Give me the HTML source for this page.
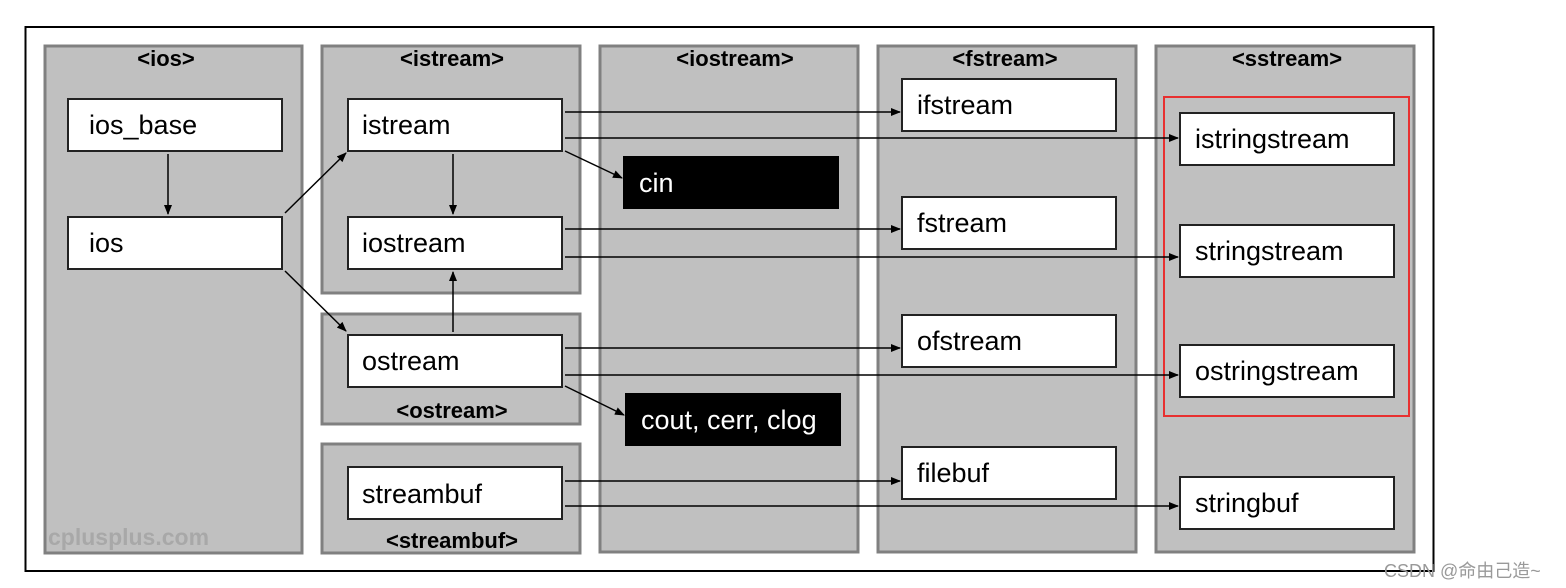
<!DOCTYPE html>
<html><head><meta charset="utf-8"><style>
html,body{margin:0;padding:0;background:#fff;}
svg{display:block;}
.t{font-family:"Liberation Sans",sans-serif;font-size:22px;font-weight:bold;text-anchor:middle;fill:#000;}
.b{font-family:"Liberation Sans",sans-serif;font-size:27px;fill:#000;}
.w{font-family:"Liberation Sans",sans-serif;font-size:27px;fill:#fff;}
</style></head><body>
<svg width="1566" height="588" viewBox="0 0 1566 588" xmlns="http://www.w3.org/2000/svg">
<defs><marker id="a" markerWidth="10" markerHeight="8" refX="9" refY="4" orient="auto" markerUnits="userSpaceOnUse"><path d="M0,0 L10,4 L0,8 z" fill="#000"/></marker></defs>
<rect x="25.5" y="27" width="1408" height="544" fill="#fff" stroke="#000" stroke-width="2"/>
<g fill="#c0c0c0" stroke="#808080" stroke-width="3">
<rect x="45" y="46" width="257" height="507"/>
<rect x="322" y="46" width="258" height="247"/>
<rect x="322" y="314" width="258" height="110"/>
<rect x="322" y="444" width="258" height="109"/>
<rect x="600" y="46" width="258" height="506"/>
<rect x="878" y="46" width="258" height="506"/>
<rect x="1156" y="46" width="258" height="506"/>
</g>
<text class="t" x="166" y="66">&lt;ios&gt;</text>
<text class="t" x="452" y="66">&lt;istream&gt;</text>
<text class="t" x="452" y="418">&lt;ostream&gt;</text>
<text class="t" x="452" y="548">&lt;streambuf&gt;</text>
<text class="t" x="735" y="66">&lt;iostream&gt;</text>
<text class="t" x="1005" y="66">&lt;fstream&gt;</text>
<text class="t" x="1287" y="66">&lt;sstream&gt;</text>
<text x="48" y="545" font-family="Liberation Sans,sans-serif" font-size="23" font-weight="bold" fill="#a8a8a8">cplusplus.com</text>
<g fill="#fff" stroke="#222" stroke-width="2">
<rect x="68" y="99" width="214" height="52"/>
<rect x="68" y="217" width="214" height="52"/>
<rect x="348" y="99" width="214" height="52"/>
<rect x="348" y="217" width="214" height="52"/>
<rect x="348" y="335" width="214" height="52"/>
<rect x="348" y="467" width="214" height="52"/>
<rect x="902" y="79" width="214" height="52"/>
<rect x="902" y="197" width="214" height="52"/>
<rect x="902" y="315" width="214" height="52"/>
<rect x="902" y="447" width="214" height="52"/>
<rect x="1180" y="113" width="214" height="52"/>
<rect x="1180" y="225" width="214" height="52"/>
<rect x="1180" y="345" width="214" height="52"/>
<rect x="1180" y="477" width="214" height="52"/>
</g>
<rect x="623" y="156" width="216" height="53" fill="#000"/>
<rect x="625" y="393" width="216" height="53" fill="#000"/>
<rect x="1164" y="97" width="245" height="319" fill="none" stroke="#e83030" stroke-width="2"/>
<text class="b" x="89" y="134">ios_base</text>
<text class="b" x="89" y="252">ios</text>
<text class="b" x="362" y="134">istream</text>
<text class="b" x="362" y="252">iostream</text>
<text class="b" x="362" y="370">ostream</text>
<text class="b" x="362" y="503">streambuf</text>
<text class="w" x="639" y="192">cin</text>
<text class="w" x="641" y="429">cout, cerr, clog</text>
<text class="b" x="917" y="114">ifstream</text>
<text class="b" x="917" y="232">fstream</text>
<text class="b" x="917" y="350">ofstream</text>
<text class="b" x="917" y="482">filebuf</text>
<text class="b" x="1195" y="148">istringstream</text>
<text class="b" x="1195" y="260">stringstream</text>
<text class="b" x="1195" y="380">ostringstream</text>
<text class="b" x="1195" y="512">stringbuf</text>
<g stroke="#000" stroke-width="1.5" fill="none" marker-end="url(#a)">
<line x1="168" y1="154" x2="168" y2="214"/>
<line x1="453" y1="154" x2="453" y2="214"/>
<line x1="453" y1="332" x2="453" y2="272"/>
<line x1="285" y1="213" x2="346" y2="153"/>
<line x1="285" y1="271" x2="346" y2="331"/>
<line x1="565" y1="151" x2="622" y2="178"/>
<line x1="565" y1="386" x2="624" y2="415"/>
<line x1="565" y1="112" x2="900" y2="112"/>
<line x1="565" y1="138" x2="1178" y2="138"/>
<line x1="565" y1="229" x2="900" y2="229"/>
<line x1="565" y1="257" x2="1178" y2="257"/>
<line x1="565" y1="348" x2="900" y2="348"/>
<line x1="565" y1="375" x2="1178" y2="375"/>
<line x1="565" y1="481" x2="900" y2="481"/>
<line x1="565" y1="506" x2="1178" y2="506"/>
</g>
<text x="1384" y="577" font-family="Liberation Sans,'Noto Sans CJK SC',sans-serif" font-size="18" fill="#999">CSDN @命由己造~</text>
</svg>
</body></html>
